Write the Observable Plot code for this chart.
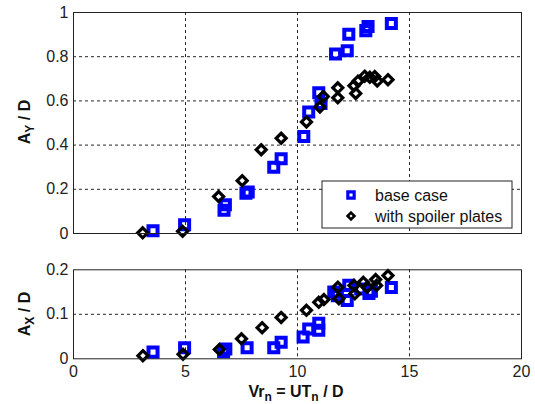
<!DOCTYPE html>
<html>
<head>
<meta charset="utf-8">
<script src="https://cdn.jsdelivr.net/npm/d3@7"></script>
<script src="https://cdn.jsdelivr.net/npm/@observablehq/plot@0.6"></script>
<style>
  html, body { margin: 0; padding: 0; background: #fff; }
  #chart { position: relative; width: 535px; height: 404px; }
  #chart svg { position: absolute; left: 0; overflow: visible; }
</style>
</head>
<body>
<div id="chart"></div>
<script>
// Reduced velocity Vr_n = U T_n / D and the amplitude ratios A_Y/D (cross-flow) and A_X/D (in-line)

// Cross-flow amplitude, base case
const ayBaseVr = [3.55, 4.96, 6.72, 6.78, 7.70, 7.80, 8.94, 9.27, 10.28, 10.50, 10.95, 11.05, 11.70, 12.22, 12.29, 13.05, 13.15, 14.19];
const ayBase   = [0.012, 0.040, 0.105, 0.130, 0.182, 0.188, 0.300, 0.338, 0.439, 0.550, 0.637, 0.588, 0.812, 0.827, 0.902, 0.918, 0.937, 0.950];

// Cross-flow amplitude, with spoiler plates
const aySpoilVr = [3.09, 4.87, 6.48, 7.53, 8.38, 9.27, 10.40, 11.00, 11.15, 11.80, 11.80, 12.52, 12.60, 12.70, 13.00, 13.23, 13.45, 13.56, 14.04];
const aySpoil   = [0.003, 0.010, 0.167, 0.239, 0.379, 0.431, 0.505, 0.572, 0.620, 0.614, 0.659, 0.669, 0.634, 0.689, 0.712, 0.707, 0.710, 0.690, 0.696];

// In-line amplitude, base case
const axBaseVr = [3.55, 4.96, 6.70, 6.80, 7.75, 8.94, 9.27, 10.25, 10.50, 10.95, 10.95, 11.62, 11.78, 12.22, 12.29, 12.82, 13.19, 13.30, 14.19];
const axBase   = [0.015, 0.025, 0.016, 0.022, 0.025, 0.025, 0.037, 0.049, 0.067, 0.080, 0.064, 0.150, 0.142, 0.131, 0.165, 0.157, 0.147, 0.152, 0.160];

// In-line amplitude, with spoiler plates
const axSpoilVr = [3.10, 4.89, 6.51, 7.50, 8.42, 9.27, 10.40, 10.95, 11.18, 11.80, 11.85, 12.52, 12.56, 12.94, 13.11, 13.49, 13.53, 14.04];
const axSpoil   = [0.007, 0.010, 0.021, 0.045, 0.070, 0.093, 0.109, 0.127, 0.133, 0.161, 0.135, 0.165, 0.146, 0.172, 0.161, 0.178, 0.165, 0.187];

const seriesNames = ["base case", "with spoiler plates"];
const xTicks = [0, 5, 10, 15, 20];
const ayTicks = [0, 0.2, 0.4, 0.6, 0.8, 1];
const axTicks = [0, 0.1, 0.2];

const pairs = (xs, ys) => xs.map((x, i) => ({x, y: ys[i]}));

const FONT = "'Liberation Sans', Arial, Helvetica, sans-serif";
const BLUE = "#0000ff";
const gridStyle = {stroke: "#000", strokeOpacity: 0.85, strokeDasharray: "3,3", strokeWidth: 1};
const squareStyle = {x: "x", y: "y", symbol: "square", r: 5.1, stroke: BLUE, strokeWidth: 4, fill: "none"};
const diamondStyle = {x: "x", y: "y", symbol: "diamond2", r: 4.5, stroke: "#000", strokeWidth: 3.2, fill: "none"};

function panel({height, marginTop, marginBottom, yTicks, base, spoil, showX}) {
  const innerX = xTicks.slice(1, -1);
  const innerY = yTicks.slice(1, -1);
  return Plot.plot({
    width: 535,
    height,
    marginLeft: 73,
    marginRight: 14,
    marginTop,
    marginBottom,
    x: {domain: [0, 20]},
    y: {domain: [yTicks[0], yTicks[yTicks.length - 1]]},
    style: {fontFamily: FONT, fontSize: "16px", color: "#222", background: "transparent"},
    marks: [
      Plot.gridX(innerX, gridStyle),
      Plot.gridY(innerY, gridStyle),
      Plot.axisY(yTicks, {tickSize: 0, tickPadding: 5, tickFormat: d => String(d), label: null, fontSize: 16}),
      showX
        ? Plot.axisX(xTicks, {tickSize: 0, tickPadding: 7, tickFormat: d => String(d), label: null, fontSize: 16})
        : Plot.axisX({ticks: [], label: null}),
      Plot.dot(base, squareStyle),
      Plot.dot(spoil, diamondStyle),
      Plot.frame({stroke: "#222", strokeWidth: 1})
    ]
  });
}

// rotated axis title "A<sub>k</sub> / D"
function yTitle(svg, sub, cx, cy) {
  const t = d3.select(svg).append("text")
    .attr("transform", `translate(${cx},${cy}) rotate(-90)`)
    .attr("text-anchor", "middle")
    .attr("font-family", FONT)
    .attr("font-weight", "bold")
    .attr("font-size", 16)
    .attr("fill", "#111");
  t.append("tspan").text("A");
  t.append("tspan").attr("font-size", 12).attr("dy", 4).text(sub);
  t.append("tspan").attr("dy", -4).text(" / D");
}

const chart = document.getElementById("chart");

const topSvg = panel({
  height: 250, marginTop: 12, marginBottom: 17, yTicks: ayTicks,
  base: pairs(ayBaseVr, ayBase), spoil: pairs(aySpoilVr, aySpoil), showX: false
});
topSvg.style.top = "0px";
chart.appendChild(topSvg);
yTitle(topSvg, "Y", 30, 122);

// legend box in the lower right of the upper panel
{
  const g = d3.select(topSvg).append("g")
    .attr("font-family", FONT).attr("font-size", 16).attr("fill", "#111")
    .attr("text-anchor", "start");
  g.append("rect").attr("x", 322).attr("y", 181).attr("width", 190).attr("height", 47)
    .attr("fill", "#fff").attr("stroke", "#222").attr("stroke-width", 1);
  const rows = [
    {name: seriesNames[0], y: 195, sym: d3.symbolSquare, size: 40, stroke: BLUE, sw: 3.2},
    {name: seriesNames[1], y: 216, sym: d3.symbolDiamond2, size: 30, stroke: "#000", sw: 2.6}
  ];
  for (const r of rows) {
    g.append("path").attr("d", d3.symbol(r.sym, r.size)())
      .attr("transform", `translate(351,${r.y})`)
      .attr("fill", "none").attr("stroke", r.stroke).attr("stroke-width", r.sw);
    g.append("text").attr("x", 375).attr("y", r.y).attr("dy", "0.35em")
      .attr("text-anchor", "start").text(r.name);
  }
}

const botSvg = panel({
  height: 154, marginTop: 19.3, marginBottom: 45.7, yTicks: axTicks,
  base: pairs(axBaseVr, axBase), spoil: pairs(axSpoilVr, axSpoil), showX: true
});
botSvg.style.top = "250px";
chart.appendChild(botSvg);
yTitle(botSvg, "X", 30, 64);

// x-axis title: Vr_n = UT_n / D
{
  const t = d3.select(botSvg).append("text")
    .attr("x", 296).attr("y", 147)
    .attr("text-anchor", "middle")
    .attr("font-family", FONT).attr("font-weight", "bold").attr("font-size", 16).attr("fill", "#111");
  t.append("tspan").text("Vr");
  t.append("tspan").attr("font-size", 12).attr("dy", 4).text("n");
  t.append("tspan").attr("dy", -4).text(" = UT");
  t.append("tspan").attr("font-size", 12).attr("dy", 4).text("n");
  t.append("tspan").attr("dy", -4).text(" / D");
}
</script>
</body>
</html>
